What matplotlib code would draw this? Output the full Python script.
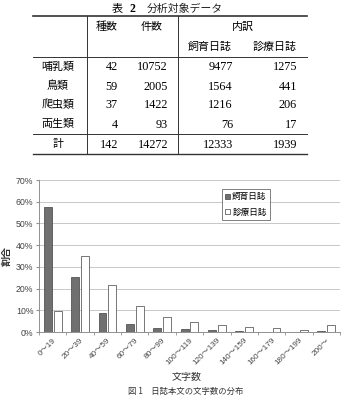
import matplotlib
matplotlib.use("Agg")
import matplotlib.pyplot as plt
import numpy as np

# ---- table data ----
row_labels = ["哺乳類", "鳥類", "爬虫類", "両生類"]
species = [42, 59, 37, 4]
records = [10752, 2005, 1422, 93]
shiiku = [9477, 1564, 1216, 76]
shinryo = [1275, 441, 206, 17]
total_label = "計"
totals = [142, 14272, 12333, 1939]

# ---- chart data ----
categories = ["0～19", "20～39", "40～59", "60～79", "80～99", "100～119", "120～139",
              "140～159", "160～179", "180～199", "200～"]
shiiku_pct = [57.4, 25.3, 8.7, 3.8, 1.8, 1.4, 0.8, 0.5, 0.2, 0.2, 0.5]
shinryo_pct = [9.6, 35.0, 21.6, 11.9, 6.9, 4.6, 3.0, 2.3, 1.8, 0.9, 3.0]
yticks = [0, 10, 20, 30, 40, 50, 60, 70]

W, H = 342, 396
fig = plt.figure(figsize=(W / 100, H / 100), dpi=100)
fig.patch.set_facecolor("white")

JP = ["Noto Sans CJK JP", "DejaVu Sans"]
SERIF = ["Liberation Serif", "DejaVu Serif"]
SANS = ["Liberation Sans", "Noto Sans CJK JP", "DejaVu Sans"]

# ---- table overlay axes in pixel coordinates ----
ov = fig.add_axes([0, 0, 1, 1])
ov.set_xlim(0, W)
ov.set_ylim(H, 0)
ov.axis("off")

ov.text(117, 9, "表", fontsize=8, family=JP, ha="center", va="center")
ov.text(132, 9.5, "2", fontsize=8.5, family=SERIF, weight="bold", ha="center", va="center")
ov.text(147, 9, "分析対象データ", fontsize=7.8, family=JP, ha="left", va="center",
        color="#222222")

lx0, lx1 = 33, 307
ov.plot([lx0, lx1], [16, 16], color="#333333", lw=1.2)
ov.plot([lx0, lx1], [57, 57], color="#333333", lw=0.7)
ov.plot([lx0, lx1], [133.5, 133.5], color="#333333", lw=0.7)
ov.plot([lx0, lx1], [154, 154], color="#333333", lw=1.0)
ov.plot([87, 87], [16, 154], color="#333333", lw=0.7)
ov.plot([178, 178], [16, 154], color="#333333", lw=0.7)

fs = 7.9
nfs = 8.8
ov.text(107, 27, "種数", fontsize=fs, family=JP, ha="center", va="center")
ov.text(152, 27, "件数", fontsize=fs, family=JP, ha="center", va="center")
ov.text(243, 27, "内訳", fontsize=fs, family=JP, ha="center", va="center")
ov.text(210, 47, "飼育日誌", fontsize=fs, family=JP, ha="center", va="center")
ov.text(275, 47, "診療日誌", fontsize=fs, family=JP, ha="center", va="center")

row_y = [67, 86, 105, 124]
colx = [118, 168, 233, 297]
for i, lab in enumerate(row_labels):
    y = row_y[i]
    ov.text(58, y, lab, fontsize=fs, family=JP, ha="center", va="center")
    for x, v in zip(colx, [species[i], records[i], shiiku[i], shinryo[i]]):
        ov.text(x, y + 0.5, str(v), fontsize=nfs, family=SERIF, ha="right", va="center")
ov.text(58, 144, total_label, fontsize=fs, family=JP, ha="center", va="center")
for x, v in zip(colx, totals):
    ov.text(x, 144.5, str(v), fontsize=nfs, family=SERIF, ha="right", va="center")

# caption (mostly cut off at bottom in reference)
ov.text(186, 396, "図 1　日誌本文の文字数の分布", fontsize=6.0, family=JP,
        ha="center", va="bottom", color="#333333")

# ---- chart ----
ax = fig.add_axes([39 / W, 1 - 332 / H, (340 - 39) / W, (332 - 180) / H])
x = np.arange(len(categories))
bw = 0.29
ax.bar(x - 0.18, shiiku_pct, width=bw, color="#707070", edgecolor="#404040",
       linewidth=0.5, label="飼育日誌", zorder=3)
ax.bar(x + 0.18, shinryo_pct, width=bw, color="white", edgecolor="#404040",
       linewidth=0.5, label="診療日誌", zorder=3)
ax.set_xlim(-0.5, len(categories) - 0.5)
ax.set_ylim(0, 70)
ax.set_yticks(yticks)
ax.set_yticklabels([f"{t}%" for t in yticks], fontsize=6.3, color="#444444",
                   family=SANS)
ax.yaxis.grid(True, color="#c8c8c8", lw=0.7, zorder=0)
ax.set_axisbelow(True)
for s in ["top", "right"]:
    ax.spines[s].set_visible(False)
for s in ["left", "bottom"]:
    ax.spines[s].set_color("#909090")
    ax.spines[s].set_linewidth(0.7)
ax.tick_params(axis="y", length=2.5, color="#909090", pad=1.5)
ax.set_xticks(x)
ax.set_xticklabels(categories, rotation=45, ha="right", rotation_mode="anchor",
                   fontsize=5.9, color="#444444", family=SANS)
ax.tick_params(axis="x", length=0, pad=3.5)
ax.set_xticks(np.arange(-0.5, len(categories), 1.0), minor=True)
ax.tick_params(axis="x", which="minor", length=2.5, color="#909090")
ax.set_ylabel("割合", fontsize=7.2, family=JP, weight="bold", labelpad=3,
              color="#333333")
ax.set_xlabel("文字数", fontsize=7.2, family=JP, color="#333333")
ax.xaxis.set_label_coords((187 - 39) / (340 - 39), (332 - 377) / 152)
ax.xaxis.label.set_va("center")

leg = ax.legend(loc="upper left", bbox_to_anchor=((222 - 39) / (340 - 39), 1 - (189 - 180) / 152),
                prop={"family": JP, "size": 6.2}, frameon=True,
                fancybox=False, edgecolor="#606060", handlelength=0.55,
                handleheight=0.55, handletextpad=0.25, borderpad=0.4,
                labelspacing=0.7, borderaxespad=0)
leg.get_frame().set_linewidth(0.7)

fig.savefig("out.png", dpi=100, facecolor="white")
